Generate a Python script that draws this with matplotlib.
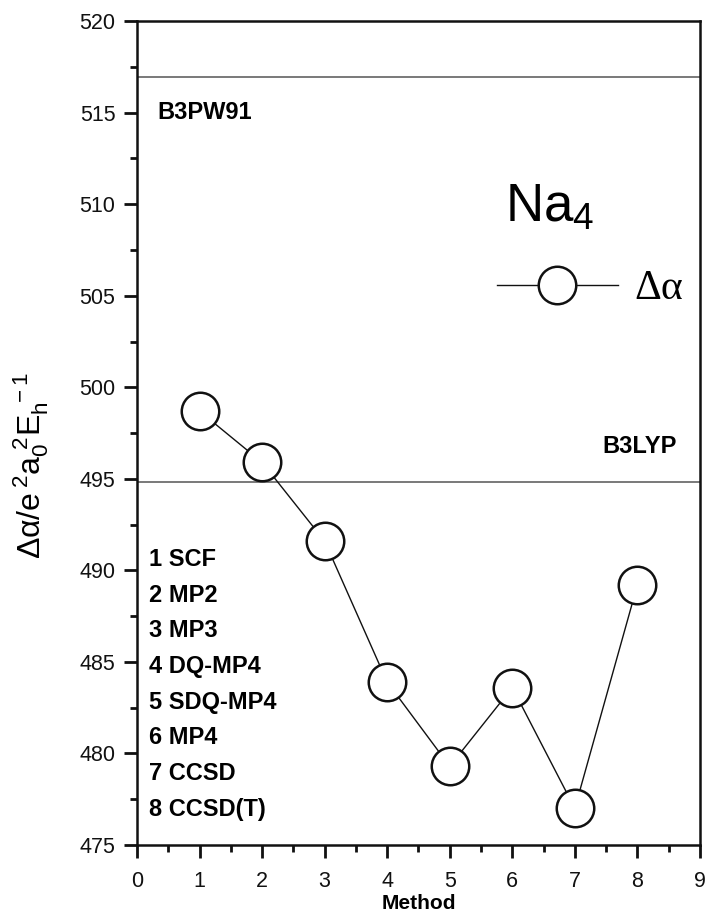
import numpy as np
import matplotlib.pyplot as plt
from matplotlib.ticker import MultipleLocator

plt.rcParams['font.family'] = ['Liberation Sans', 'DejaVu Sans']
plt.rcParams['mathtext.fontset'] = 'custom'
plt.rcParams['mathtext.rm'] = 'Liberation Sans'
plt.rcParams['mathtext.it'] = 'Liberation Sans'

# data
methods = [1, 2, 3, 4, 5, 6, 7, 8]
delta_alpha = [498.7, 495.9, 491.6, 483.9, 479.3, 483.6, 477.0, 489.2]
method_names = ['SCF', 'MP2', 'MP3', 'DQ-MP4', 'SDQ-MP4', 'MP4', 'CCSD', 'CCSD(T)']
b3pw91 = 516.95
b3lyp = 494.85

fig = plt.figure(figsize=(7.05, 9.19), dpi=100)
ax = fig.add_axes([0.1943, 0.0805, 0.7985, 0.8965])

ax.axhline(b3pw91, color='#555555', lw=1.1)
ax.axhline(b3lyp, color='#555555', lw=1.1)

ax.plot(methods, delta_alpha, color='#111111', lw=1.0, marker='o', ms=27,
        mfc='white', mec='#111111', mew=1.8, label='Δα', zorder=3)

ax.set_xlim(0, 9)
ax.set_ylim(475, 520)
ax.xaxis.set_major_locator(MultipleLocator(1))
ax.xaxis.set_minor_locator(MultipleLocator(0.5))
ax.yaxis.set_major_locator(MultipleLocator(5))
ax.yaxis.set_minor_locator(MultipleLocator(2.5))
ax.tick_params(which='both', direction='out', width=2, colors='#111111',
               labelsize=15.5, top=False, right=False)
ax.tick_params(which='major', length=9.5, pad=6)
ax.tick_params(axis='x', which='major', pad=9)
ax.tick_params(which='minor', length=5)
for s in ax.spines.values():
    s.set_linewidth(1.8)
    s.set_color('#111111')

ax.set_xlabel('Method', fontsize=15, fontweight='bold', labelpad=2)
ax.set_ylabel(r'$\Delta\alpha/e^{\,2}a_0^{\ 2}E_h^{\ -1}$', fontsize=23)
ax.yaxis.set_label_coords(-0.152, 0.46)

ax.text(0.33, 515.0, 'B3PW91', fontsize=17, fontweight='bold', va='center')
ax.text(8.63, 496.76, 'B3LYP', fontsize=17, fontweight='bold', va='center', ha='right')

for i, name in enumerate(method_names):
    ax.text(0.2, 490.6 - i * 1.95, f'{methods[i]} {name}', fontsize=17,
            fontweight='bold', va='center')

ax.text(5.88, 509.03, r'Na$_4$', fontsize=38, va='baseline')
leg = ax.legend(loc='center left', bbox_to_anchor=(0.639, 0.675), frameon=False,
                handlelength=2.9, handletextpad=0.4, markerscale=1.0,
                borderpad=0, borderaxespad=0,
                prop={'family': 'Liberation Serif', 'size': 30})

fig.savefig('out.png', dpi=100)
